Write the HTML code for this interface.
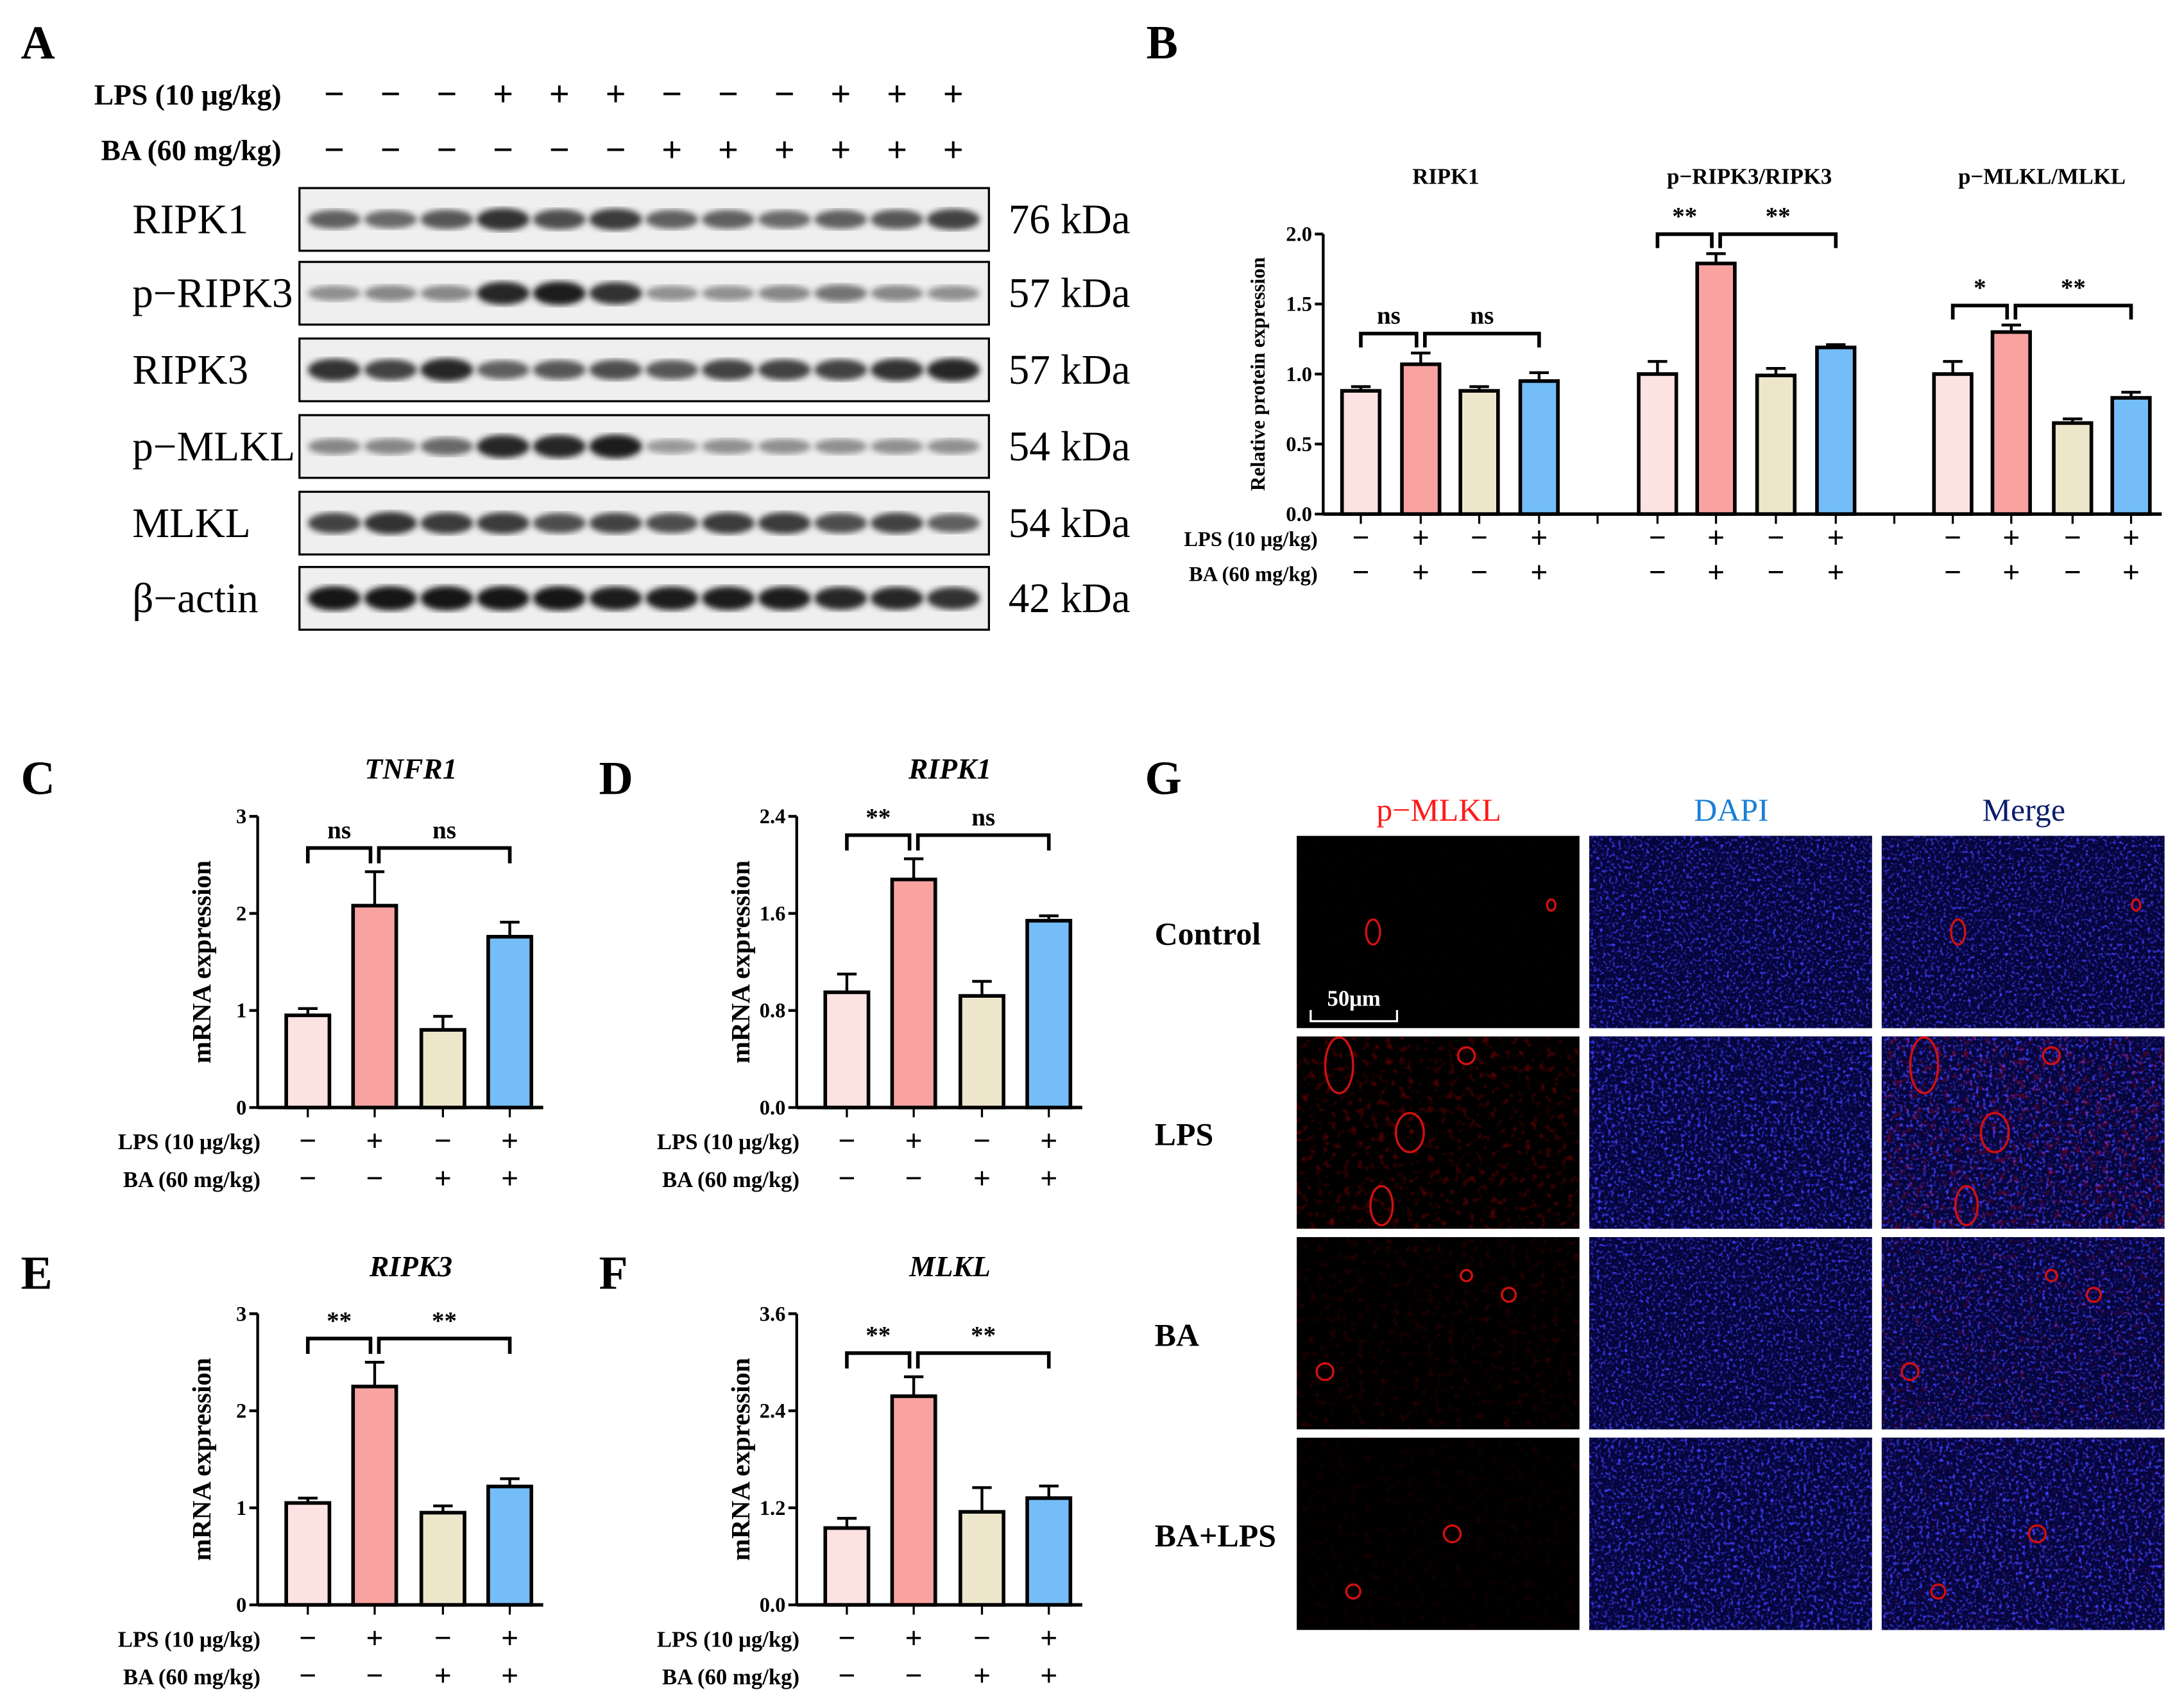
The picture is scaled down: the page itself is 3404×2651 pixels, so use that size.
<!DOCTYPE html>
<html><head><meta charset="utf-8">
<style>
html,body{margin:0;padding:0;background:#fff;}
svg{display:block;font-family:"Liberation Serif",serif;}
</style></head>
<body>
<svg id="fig" xmlns="http://www.w3.org/2000/svg" width="3404" height="2651" viewBox="0 0 1568 1221" preserveAspectRatio="none">
<defs>
<filter id="blur1"><feGaussianBlur stdDeviation="2.2"/></filter>
<filter id="nucBlue" x="0" y="0" width="100%" height="100%">
 <feTurbulence type="fractalNoise" baseFrequency="0.45" numOctaves="3" seed="3" result="n"/>
 <feColorMatrix type="matrix" values="0 0 0 0 0.05  0 0 0 0 0.05  0 0 0 0 1  0 0 0 3.6 -1.9" in="n"/>
</filter>
<filter id="nucBlue2" x="0" y="0" width="100%" height="100%">
 <feTurbulence type="fractalNoise" baseFrequency="0.42" numOctaves="3" seed="9" result="n"/>
 <feColorMatrix type="matrix" values="0 0 0 0 0.05  0 0 0 0 0.05  0 0 0 0 1  0 0 0 3.6 -1.85" in="n"/>
</filter>
<filter id="redHaze" x="0" y="0" width="100%" height="100%">
 <feTurbulence type="fractalNoise" baseFrequency="0.2" numOctaves="2" seed="5" result="n"/>
 <feColorMatrix type="matrix" values="0 0 0 0 0.8  0 0 0 0 0  0 0 0 0 0  0 0 0 2.2 -1.2" in="n"/>
</filter>
</defs>
<g id="root"></g>
</svg>
<script>
// ---------- Panel B data ----------
const bGroups = ["RIPK1", "p\u2212RIPK3/RIPK3", "p\u2212MLKL/MLKL"];
const bRIPK1 = [0.88, 1.07, 0.88, 0.95];
const bRIPK1Err = [0.03, 0.08, 0.03, 0.06];
const bPRIPK3 = [1.0, 1.79, 0.99, 1.19];
const bPRIPK3Err = [0.09, 0.07, 0.05, 0.02];
const bPMLKL = [1.0, 1.30, 0.65, 0.83];
const bPMLKLErr = [0.09, 0.05, 0.03, 0.04];
const bSig = [["ns","ns"],["**","**"],["*","**"]];
const bTicks = [0, 0.5, 1.0, 1.5, 2.0];
// ---------- Panels C-F data ----------
const cTNFR1 = [0.95, 2.08, 0.80, 1.76];
const cTNFR1Err = [0.07, 0.35, 0.14, 0.15];
const dRIPK1 = [0.95, 1.88, 0.92, 1.54];
const dRIPK1Err = [0.15, 0.17, 0.12, 0.04];
const eRIPK3 = [1.05, 2.25, 0.95, 1.22];
const eRIPK3Err = [0.05, 0.25, 0.07, 0.08];
const fMLKL = [0.95, 2.58, 1.15, 1.32];
const fMLKLErr = [0.12, 0.24, 0.30, 0.15];
const ticks3 = [0, 1, 2, 3];
const ticks24 = [0.0, 0.8, 1.6, 2.4];
const ticks36 = [0.0, 1.2, 2.4, 3.6];
const sigC = ["ns","ns"], sigD = ["**","ns"], sigE = ["**","**"], sigF = ["**","**"];
const lpsSigns = ["\u2212","+","\u2212","+"];
const baSigns = ["\u2212","\u2212","+","+"];
const blotLPS = ["-","-","-","+","+","+","-","-","-","+","+","+"];
const blotBA = ["-","-","-","-","-","-","+","+","+","+","+","+"];
const blotProteins = ["RIPK1","p\u2212RIPK3","RIPK3","p\u2212MLKL","MLKL","\u03b2\u2212actin"];
const blotKDa = ["76 kDa","57 kDa","57 kDa","54 kDa","54 kDa","42 kDa"];
const blotIntensity = [
 [0.55,0.5,0.6,0.8,0.65,0.75,0.55,0.55,0.5,0.55,0.6,0.7],
 [0.3,0.35,0.35,0.85,0.9,0.8,0.3,0.3,0.35,0.45,0.35,0.3],
 [0.8,0.7,0.85,0.55,0.6,0.65,0.6,0.7,0.7,0.7,0.8,0.85],
 [0.35,0.35,0.5,0.85,0.85,0.9,0.25,0.3,0.3,0.3,0.3,0.3],
 [0.7,0.8,0.75,0.75,0.65,0.7,0.65,0.75,0.75,0.65,0.7,0.55],
 [0.95,0.95,0.95,0.95,0.95,0.9,0.9,0.9,0.9,0.85,0.85,0.8]
];
const fillColors = ["#fde2e2","#f9a3a1","#ede6cb","#74bdf8"];

const NS = "http://www.w3.org/2000/svg";
const root = document.getElementById("root");
function mk(tag, attrs, parent, text){
  const e = document.createElementNS(NS, tag);
  for (const k in attrs) e.setAttribute(k, attrs[k]);
  if (text !== undefined) e.textContent = text;
  (parent || root).appendChild(e);
  return e;
}
function txt(x, y, s, size, opts, parent){
  opts = opts || {};
  const e = mk("text", {x:x, y:y, "font-size":size, "text-anchor":opts.anchor||"middle",
    "font-weight":opts.weight||"bold", "font-style":opts.style||"normal", fill:opts.fill||"#000"}, parent, s);
  if (opts.transform) e.setAttribute("transform", opts.transform);
  return e;
}

// ---------- Panel labels ----------
[["A",15,42],["B",823,42],["C",15,570],["D",430,570],["E",15,925],["F",430,925],["G",822,570]].forEach(p=>{
  const t = txt(p[1], p[2], p[0], 34, {anchor:"start"});
  
  
});

// ---------- Panel A: western blot ----------
const gA = mk("g", {});


const laneX = i => 240 + i * 40.4;
txt(202, 75, "LPS (10 \u03bcg/kg)", 21, {anchor:"end"}, gA);
txt(202, 115, "BA (60 mg/kg)", 21, {anchor:"end"}, gA);
blotLPS.forEach((s,i)=>{ const t = txt(laneX(i), 76, s==="+"?"+":"\u2212", 26, {}, gA);   });
blotBA.forEach((s,i)=>{ const t = txt(laneX(i), 116, s==="+"?"+":"\u2212", 26, {}, gA);   });
const blotTops = [135, 188, 243, 298, 353, 407];
blotProteins.forEach((p,r)=>{
  const y0 = blotTops[r], h = 45;
  const g = mk("g", {}, gA);
  
  
  mk("rect", {x:215, y:y0, width:495, height:h, fill:"#efefef", stroke:"#000", "stroke-width":1.5}, g);
  blotIntensity[r].forEach((v,i)=>{
    const c = Math.round(200 - v * 190);
    const band = mk("ellipse", {cx:laneX(i), cy:y0 + h/2, rx:19, ry:4 + v*5, fill:`rgb(${c},${c},${c})`, filter:"url(#blur1)"}, g);
    
    
  });
  txt(95, y0 + h/2 + 10, p, 30, {anchor:"start", weight:"normal"}, g);
  txt(724, y0 + h/2 + 10, blotKDa[r], 30, {anchor:"start", weight:"normal"}, g);
});

// ---------- generic bar chart ----------
function barChart(cfg){
  const g = mk("g", {});
  
  
  const y = v => cfg.y0 - (v / cfg.max) * (cfg.y0 - cfg.y1);
  const ax = mk("line", {x1:cfg.ax, y1:cfg.y1, x2:cfg.ax, y2:cfg.y0, stroke:"#000", "stroke-width":2}, g);
   
  cfg.ticks.forEach(t=>{
    mk("line", {x1:cfg.ax-6, y1:y(t), x2:cfg.ax, y2:y(t), stroke:"#000", "stroke-width":2}, g);
    const tl = txt(cfg.ax-8, y(t)+5, cfg.tickFmt(t), cfg.tickSize, {anchor:"end"}, g);
     
  });
  const yt = txt(cfg.ax - cfg.titleOff, (cfg.y0+cfg.y1)/2, cfg.yTitle, cfg.yTitleSize, {transform:`rotate(-90 ${cfg.ax - cfg.titleOff} ${(cfg.y0+cfg.y1)/2})`}, g);
   
  const xa = mk("line", {x1:cfg.ax, y1:cfg.y0, x2:cfg.xEnd, y2:cfg.y0, stroke:"#000", "stroke-width":2.5}, g);
   
  (cfg.extraTicks||[]).forEach(tx=> mk("line", {x1:tx, y1:cfg.y0, x2:tx, y2:cfg.y0+7, stroke:"#000", "stroke-width":1.5}, g));
  cfg.groups.forEach((grp, gi)=>{
    const tops = grp.vals.map((v,i)=> y(v + grp.errs[i]));
    grp.vals.forEach((v,i)=>{
      const cx = grp.xs[i];
      const top = y(v), errTop = y(v + grp.errs[i]);
      mk("line", {x1:cx, y1:top, x2:cx, y2:errTop, stroke:"#000", "stroke-width":2}, g);
      mk("line", {x1:cx-7, y1:errTop, x2:cx+7, y2:errTop, stroke:"#000", "stroke-width":2}, g);
      const b = mk("rect", {x:cx-cfg.bw/2, y:top, width:cfg.bw, height:cfg.y0-top, fill:fillColors[i], stroke:"#000", "stroke-width":2.6}, g);
      
      
      mk("line", {x1:cx, y1:cfg.y0, x2:cx, y2:cfg.y0+7, stroke:"#000", "stroke-width":1.5}, g);
      const s1 = txt(cx, cfg.signY1, grp.lps[i], 22, {}, g);
       
      const s2 = txt(cx, cfg.signY2, grp.ba[i], 22, {}, g);
       
    });
    const level = Math.min.apply(null, tops) - cfg.brOff;
    [[0,1],[1,3]].forEach((pr,k)=>{
      const xa1 = grp.xs[pr[0]] + (k===1?3:0), xa2 = grp.xs[pr[1]] - (k===0?3:0);
      const br = mk("polyline", {points:`${xa1},${level+cfg.leg} ${xa1},${level} ${xa2},${level} ${xa2},${level+cfg.leg}`, fill:"none", stroke:"#000", "stroke-width":2.6}, g);
       
      const st = txt((xa1+xa2)/2, level-7, grp.sig[k], cfg.sigSize, {}, g);
       
    });
    if (grp.title){
      const tt = txt(grp.titleX, cfg.titleY, grp.title, cfg.titleSize, {style:cfg.titleStyle||"normal"}, g);
       
    }
  });
  const l1 = txt(cfg.labX, cfg.signY1-1, "LPS (10 \u03bcg/kg)", cfg.labSize, {anchor:"end"}, g);
   
  const l2 = txt(cfg.labX, cfg.signY2-1, "BA (60 mg/kg)", cfg.labSize, {anchor:"end"}, g);
   
}

// Panel B
const signsB = ["\u2212","+","\u2212","+"];
barChart({name:"panel-b-protein-chart", ax:950, y0:369, y1:168, max:2.0, ticks:bTicks, tickFmt:t=>t.toFixed(1), tickSize:15,
  yTitle:"Relative protein expression", yTitleSize:14.5, titleOff:42, xEnd:1552, extraTicks:[1147,1360], bw:27,
  signY1:393, signY2:418, labX:946, labSize:15, brOff:14, leg:10, sigSize:18, titleY:132, titleSize:16,
  groups:[
   {key:"ripk1", xs:[977,1020,1062,1105], vals:bRIPK1, errs:bRIPK1Err, sig:bSig[0], lps:signsB, ba:signsB, title:bGroups[0], titleX:1038},
   {key:"pripk3", xs:[1190,1232,1275,1318], vals:bPRIPK3, errs:bPRIPK3Err, sig:bSig[1], lps:signsB, ba:signsB, title:bGroups[1], titleX:1256},
   {key:"pmlkl", xs:[1402,1444,1488,1530], vals:bPMLKL, errs:bPMLKLErr, sig:bSig[2], lps:signsB, ba:signsB, title:bGroups[2], titleX:1466}
  ]});
function small(name, ax, y0, max, ticks, fmt, vals, errs, sig, title){
  const xs = [ax+36, ax+84, ax+133, ax+181];
  barChart({name:name, ax:ax, y0:y0, y1:y0-209, max:max, ticks:ticks, tickFmt:fmt, tickSize:15,
    yTitle:"mRNA expression", yTitleSize:19, titleOff:34, xEnd:ax+205, bw:31,
    signY1:y0+31, signY2:y0+58, labX:ax+2, labSize:16, brOff:17, leg:11, sigSize:18, titleY:y0-236, titleSize:21, titleStyle:"italic",
    groups:[{key:name, xs:xs, vals:vals, errs:errs, sig:sig, lps:lpsSigns, ba:baSigns, title:title, titleX:ax+110}]});
}
small("panel-c-tnfr1-chart", 185, 795, 3, ticks3, t=>String(t), cTNFR1, cTNFR1Err, sigC, "TNFR1");
small("panel-d-ripk1-chart", 572, 795, 2.4, ticks24, t=>t.toFixed(1), dRIPK1, dRIPK1Err, sigD, "RIPK1");
small("panel-e-ripk3-chart", 185, 1152, 3, ticks3, t=>String(t), eRIPK3, eRIPK3Err, sigE, "RIPK3");
small("panel-f-mlkl-chart", 572, 1152, 3.6, ticks36, t=>t.toFixed(1), fMLKL, fMLKLErr, sigF, "MLKL");

// ---------- Panel G: immunofluorescence ----------
const gG = mk("g", {});


const colX = [931, 1141, 1351], rowY = [600, 744, 888, 1032];
const colNames = ["p\u2212MLKL","DAPI","Merge"], colColors = ["#ff1a1a","#1a7fd6","#0b1d6b"];
const rowNames = ["Control","LPS","BA","BA+LPS"];
colNames.forEach((c,i)=>{ const t = txt(colX[i]+102, 589, c, 23, {weight:"normal", fill:colColors[i]}, gG);   });
rowNames.forEach((r,j)=>{ const t = txt(829, rowY[j]+78, r, 23, {anchor:"start"}, gG);   });
const redAmt = [0.05, 0.55, 0.25, 0.12];
const rings = [[[0.27,0.5,5,9],[0.9,0.36,3,4]],[[0.15,0.15,10,20],[0.4,0.5,10,14],[0.3,0.88,8,14],[0.6,0.1,6,6]],[[0.6,0.2,4,4],[0.75,0.3,5,5],[0.1,0.7,6,6]],[[0.55,0.5,6,6],[0.2,0.8,5,5]]];
rowY.forEach((ry,j)=>{
  colX.forEach((cx,i)=>{
    const g = mk("g", {}, gG);
    
    
    mk("rect", {x:cx, y:ry, width:203, height:138, fill:"#000"}, g);
    if (i > 0) {
      mk("rect", {x:cx, y:ry, width:203, height:138, fill:"#06064a", opacity:0.8}, g);
      mk("rect", {x:cx, y:ry, width:203, height:138, filter:(j%2?"url(#nucBlue2)":"url(#nucBlue)")}, g);
    }
    if (i !== 1) {
      mk("rect", {x:cx, y:ry, width:203, height:138, filter:"url(#redHaze)", opacity:redAmt[j]}, g);
      rings[j].forEach(r=>{
        mk("ellipse", {cx:cx+r[0]*203, cy:ry+r[1]*138, rx:r[2], ry:r[3], fill:"none", stroke:"#d01010", "stroke-width":1.6}, g);
      });
    }
  });
});
mk("polyline", {points:"941,725 941,733 1003,733 1003,725", fill:"none", stroke:"#fff", "stroke-width":1.5}, gG);
const sb = txt(972, 722, "50\u03bcm", 16, {fill:"#fff"}, gG);
 
</script>
</body></html>
